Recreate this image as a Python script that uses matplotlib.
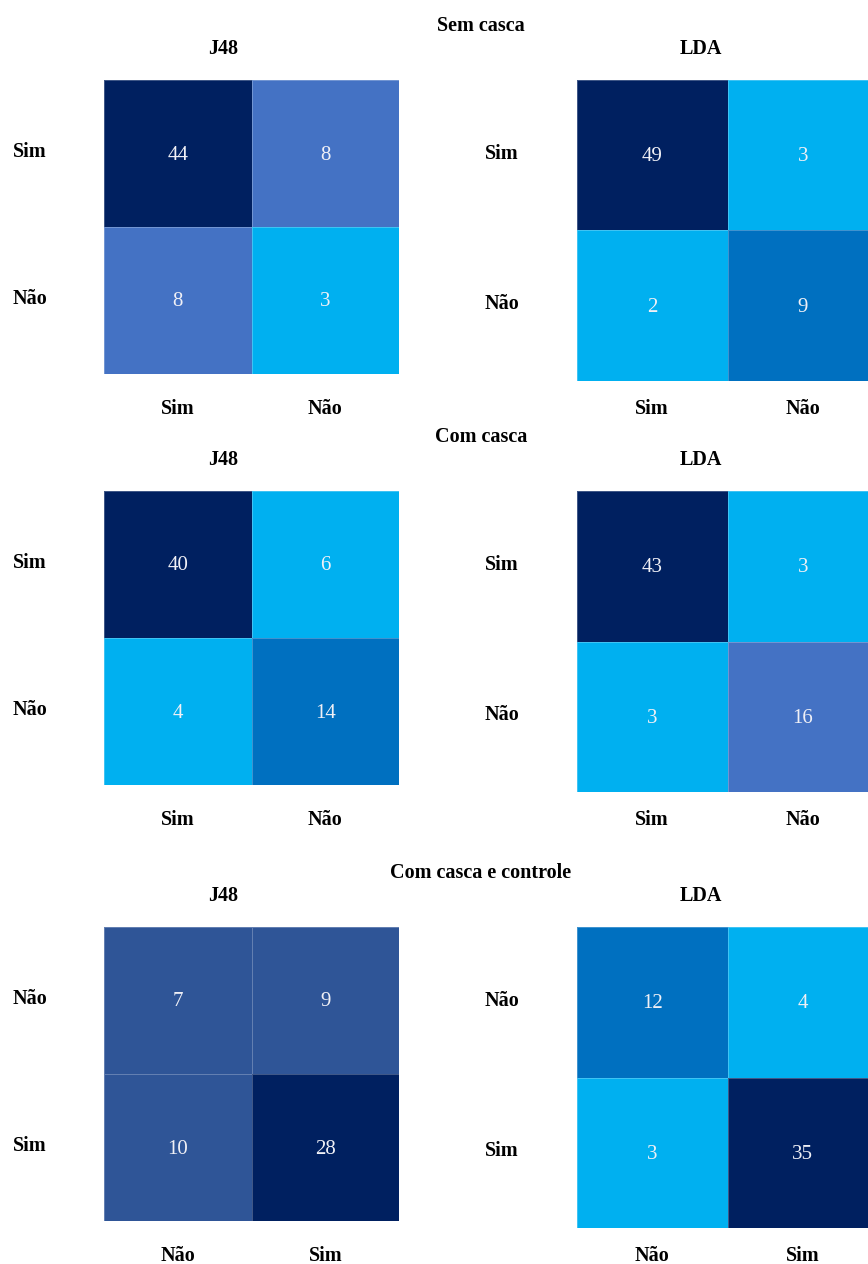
import matplotlib
matplotlib.use("Agg")
import matplotlib.pyplot as plt
from matplotlib.colors import ListedColormap
import numpy as np

# Confusion matrices (rows: actual class, columns: predicted class)
sem_casca_j48 = [[44, 8], [8, 3]]
sem_casca_lda = [[49, 3], [2, 9]]
com_casca_j48 = [[40, 6], [4, 14]]
com_casca_lda = [[43, 3], [3, 16]]
controle_j48 = [[7, 9], [10, 28]]
controle_lda = [[12, 4], [3, 35]]

labels_sim_nao = ["Sim", "Não"]
labels_nao_sim = ["Não", "Sim"]

group_titles = ["Sem casca", "Com casca", "Com casca e controle"]
model_titles = ["J48", "LDA"]

# Cell shading: palette and per-cell tone index
palette = ["#002060", "#2F5597", "#4472C4", "#0070C0", "#00B0F0"]
tones = {
    "sem_j48": [[0, 2], [2, 4]],
    "sem_lda": [[0, 4], [4, 3]],
    "com_j48": [[0, 4], [4, 3]],
    "com_lda": [[0, 4], [4, 2]],
    "ctl_j48": [[1, 1], [1, 0]],
    "ctl_lda": [[3, 4], [4, 0]],
}

W, H = 868, 1264
fig = plt.figure(figsize=(W / 100, H / 100), dpi=100)
fig.patch.set_facecolor("white")

SERIF = ["Liberation Serif", "DejaVu Serif"]
LABEL_KW = dict(family=SERIF, fontweight="bold", fontsize=14.5, color="#000000")
cmap = ListedColormap(palette)


def fx(x):
    return x / W


def fy(y):
    return 1 - y / H


def draw_matrix(x0, y0, w, h, values, tone):
    ax = fig.add_axes([fx(x0), fy(y0 + h), w / W, h / H])
    ax.pcolormesh(np.array(tone), cmap=cmap, vmin=-0.5, vmax=len(palette) - 0.5,
                  edgecolors=(1, 1, 1, 0.25), linewidth=0.6)
    ax.set_xlim(0, 2)
    ax.set_ylim(2, 0)
    ax.axis("off")
    cw, ch = w / 2, h / 2
    # cell counts, baseline set a little below the cell centre
    for i in range(2):
        for j in range(2):
            ax.text(j + 0.5, i + 0.5 + 6.0 / ch, str(values[i][j]), ha="center",
                    va="baseline", family=SERIF, fontsize=15, color="#F0F0F6")
    return ax, cw, ch


# Layout of the three groups: top edge of matrices
row_tops = [80, 491, 927]
j48_box = (104, 295, 294)   # x0, width, height
lda_box = (577, 301, 301)

mats = [
    (sem_casca_j48, tones["sem_j48"], sem_casca_lda, tones["sem_lda"], labels_sim_nao),
    (com_casca_j48, tones["com_j48"], com_casca_lda, tones["com_lda"], labels_sim_nao),
    (controle_j48, tones["ctl_j48"], controle_lda, tones["ctl_lda"], labels_nao_sim),
]

for r, top in enumerate(row_tops):
    jv, jt, lv, lt, labels = mats[r]
    # group title and model titles
    fig.text(fx(481), fy(top - 49), group_titles[r], ha="center", va="baseline", **LABEL_KW)
    fig.text(fx(223), fy(top - 26), model_titles[0], ha="center", va="baseline", **LABEL_KW)
    fig.text(fx(701), fy(top - 26), model_titles[1], ha="center", va="baseline", **LABEL_KW)

    for (x0, w, h), vals, tone, lab_x in (
        (j48_box, jv, jt, 13),
        (lda_box, lv, lt, 485),
    ):
        _, cw, ch = draw_matrix(x0, top, w, h, vals, tone)
        # row labels (actual class)
        for i, lab in enumerate(labels):
            yc = top + ch * (i + 0.5)
            fig.text(fx(lab_x), fy(yc + 3.5), lab, ha="left", va="baseline", **LABEL_KW)
        # column labels (predicted class)
        for j, lab in enumerate(labels):
            xc = x0 + cw * (j + 0.5)
            fig.text(fx(xc), fy(top + 334), lab, ha="center", va="baseline", **LABEL_KW)

fig.savefig("out.png", dpi=100, facecolor="white")
